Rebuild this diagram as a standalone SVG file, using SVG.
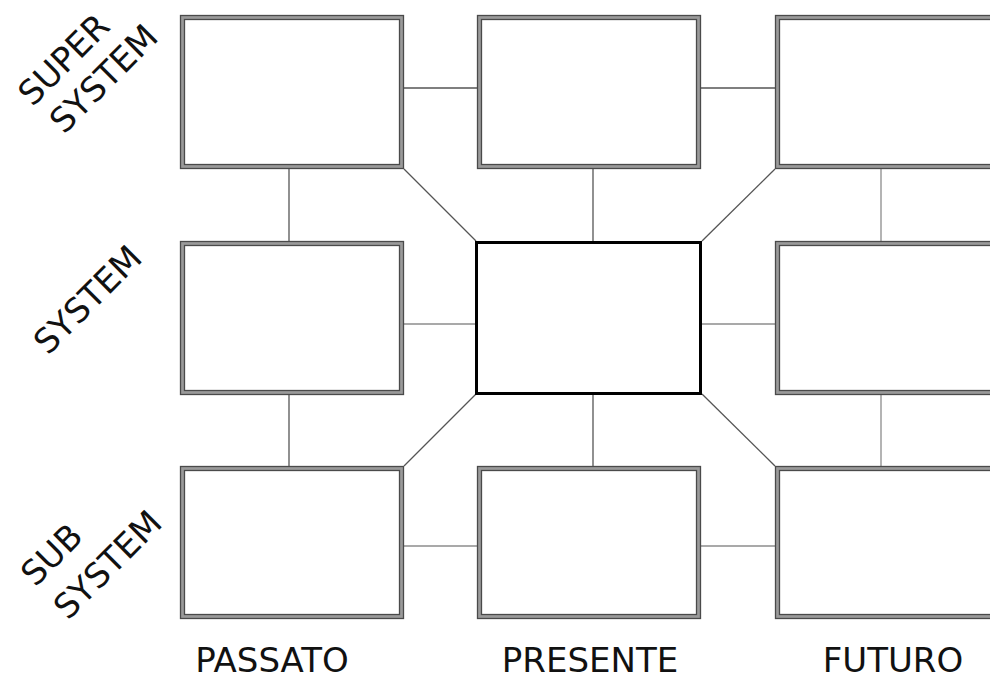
<svg xmlns="http://www.w3.org/2000/svg" width="990" height="680" viewBox="0 0 990 680">
<style>
.bo{fill:#fff;stroke:#9a9a9a;stroke-width:5}
.bl{fill:none;stroke:#4a4a4a;stroke-width:1.3}
.c{fill:none;stroke:#555;stroke-width:1.3}
.cl{fill:none;stroke:#8c8c8c;stroke-width:1.3}
.t{font-family:"DejaVu Sans",Verdana,sans-serif;font-size:34px;fill:#111;text-anchor:middle}
</style>
<rect width="990" height="680" fill="#fff"/>
<g id="connectors">
<line class="c" x1="404" y1="88" x2="477" y2="88"/>
<line class="c" x1="700" y1="88" x2="775" y2="88"/>
<line class="cl" x1="404" y1="324" x2="476" y2="324"/>
<line class="cl" x1="702" y1="324" x2="775" y2="324"/>
<line class="cl" x1="404" y1="546" x2="477" y2="546"/>
<line class="cl" x1="700" y1="546" x2="775" y2="546"/>
<line class="c" x1="289" y1="169" x2="289" y2="241"/>
<line class="c" x1="289" y1="394" x2="289" y2="466"/>
<line class="c" x1="593" y1="169" x2="593" y2="241"/>
<line class="c" x1="593" y1="394" x2="593" y2="466"/>
<line class="cl" x1="881" y1="169" x2="881" y2="241"/>
<line class="cl" x1="881" y1="394" x2="881" y2="466"/>
<line class="c" x1="404" y1="169" x2="476" y2="241"/>
<line class="c" x1="775" y1="169" x2="702" y2="241"/>
<line class="c" x1="476" y1="394" x2="404" y2="466"/>
<line class="c" x1="702" y1="394" x2="775" y2="466"/>
</g>
<g id="n11"><rect class="bo" x="182.5" y="17.5" width="219" height="149"/><rect class="bl" x="180.5" y="15.5" width="223" height="153"/><rect class="bl" x="184.5" y="19.5" width="215" height="145"/></g>
<g id="n12"><rect class="bo" x="479.5" y="17.5" width="219" height="149"/><rect class="bl" x="477.5" y="15.5" width="223" height="153"/><rect class="bl" x="481.5" y="19.5" width="215" height="145"/></g>
<g id="n13"><rect class="bo" x="777.5" y="17.5" width="230" height="149"/><rect class="bl" x="775.5" y="15.5" width="230" height="153"/><rect class="bl" x="779.5" y="19.5" width="230" height="145"/></g>
<g id="n21"><rect class="bo" x="182.5" y="243.5" width="219" height="149"/><rect class="bl" x="180.5" y="241.5" width="223" height="153"/><rect class="bl" x="184.5" y="245.5" width="215" height="145"/></g>
<g id="n22"><rect x="476.5" y="242.5" width="224" height="151" fill="#fff" stroke="#000" stroke-width="3"/></g>
<g id="n23"><rect class="bo" x="777.5" y="243.5" width="230" height="149"/><rect class="bl" x="775.5" y="241.5" width="230" height="153"/><rect class="bl" x="779.5" y="245.5" width="230" height="145"/></g>
<g id="n31"><rect class="bo" x="182.5" y="468.5" width="219" height="148"/><rect class="bl" x="180.5" y="466.5" width="223" height="152"/><rect class="bl" x="184.5" y="470.5" width="215" height="144"/></g>
<g id="n32"><rect class="bo" x="479.5" y="468.5" width="219" height="148"/><rect class="bl" x="477.5" y="466.5" width="223" height="152"/><rect class="bl" x="481.5" y="470.5" width="215" height="144"/></g>
<g id="n33"><rect class="bo" x="777.5" y="468.5" width="230" height="148"/><rect class="bl" x="775.5" y="466.5" width="230" height="152"/><rect class="bl" x="779.5" y="470.5" width="230" height="144"/></g>
<g id="labels">
<text class="t" transform="translate(72,68) rotate(-45)">SUPER</text>
<text class="t" transform="translate(112,87) rotate(-45)">SYSTEM</text>
<text class="t" transform="translate(96,308) rotate(-45)">SYSTEM</text>
<text class="t" transform="translate(60,563) rotate(-45)">SUB</text>
<text class="t" transform="translate(116,573) rotate(-45)">SYSTEM</text>
<text class="t" x="272" y="672">PASSATO</text>
<text class="t" x="590" y="672">PRESENTE</text>
<text class="t" x="893" y="672">FUTURO</text>
</g>
</svg>
